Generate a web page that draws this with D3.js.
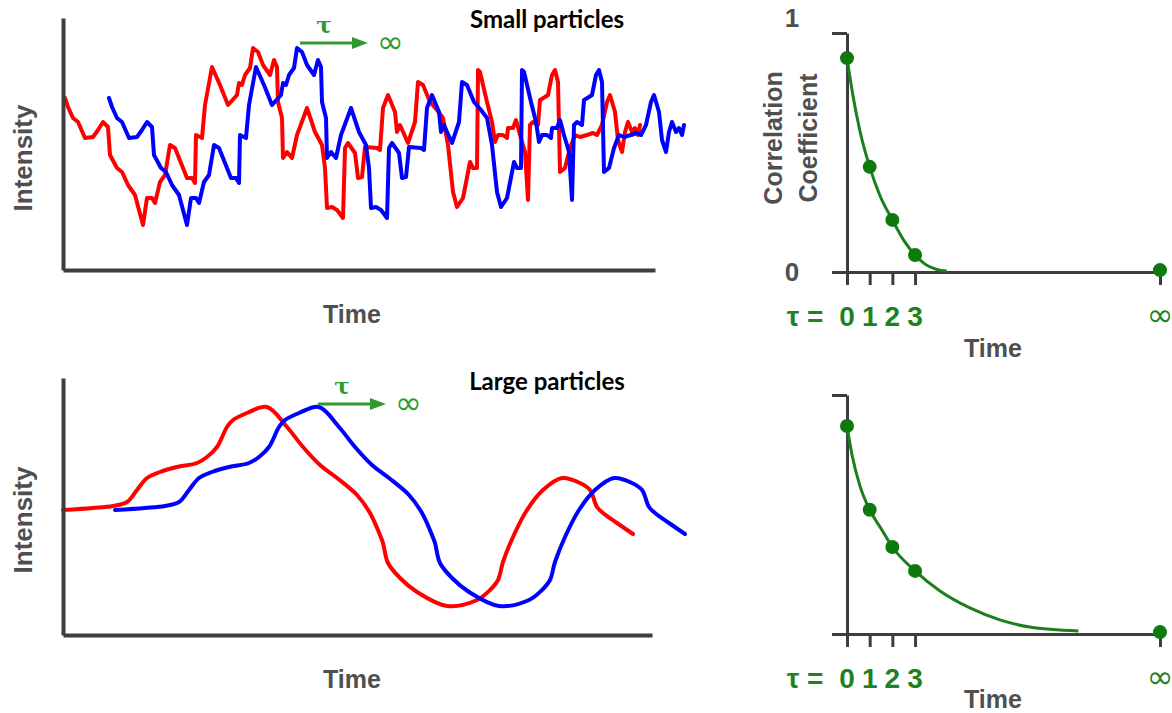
<!DOCTYPE html>
<html>
<head>
<meta charset="utf-8">
<script src="https://cdn.jsdelivr.net/npm/d3@7"></script>
<style>
  body { margin: 0; background: #fff; }
  svg { display: block; }
  .axis .domain, .axis line { stroke: #3d3d3d; }
  .label { font-family: "Liberation Sans", Arial, sans-serif; font-weight: bold; fill: #4f4f4f; }
  .title { font-family: Lato, "Open Sans", sans-serif; font-weight: bold; fill: #000; }
  .green { fill: #1f821f; font-family: "Liberation Sans", Arial, sans-serif; font-weight: bold; }
</style>
</head>
<body>
<svg width="1172" height="713"></svg>
<script>
// intensity traces: [time, intensity]; second trace is the same signal delayed by tau
var smallTrace = [
  [2,172],[5,163],[10,152],[15,148],[22,132],[30,133],[35,140],[40,148],[45,143],[47,115],
  [54,102],[59,98],[65,85],[72,75],[80,45],[84,72],[89,72],[92,67],[97,88],[102,95],
  [107,125],[112,122],[124,92],[129,92],[132,87],[133,135],[139,132],[142,165],[149,203],[157,185],
  [165,165],[174,175],[176,187],[179,185],[182,195],[187,202],[190,222],[195,218],[200,205],[207,195],
  [211,210],[214,203],[215,168],[219,152],[220,112],[224,118],[229,112],[234,135],[244,162],[252,138],
  [259,125],[262,102],[264,62],[269,63],[274,60],[280,52],[282,122],[285,127],[292,117],[295,92],
  [299,93],[302,123],[314,122],[317,120],[320,162],[325,175],[332,158],[334,138],[337,145],[345,127],
  [352,148],[355,188],[360,185],[367,168],[374,160],[380,152],[385,125],[390,78],[394,63],[400,72],
  [407,108],[410,102],[414,102],[415,200],[417,198],[424,168],[429,148],[432,128],[435,135],[440,135],
  [444,132],[445,142],[450,142],[453,150],[457,135],[462,118],[465,70],[467,145],[470,148],[475,145],
  [477,170],[482,173],[485,175],[489,195],[492,200],[495,188],[497,98],[502,102],[507,122],[512,135],
  [517,133],[524,135],[530,137],[534,135],[539,145],[544,168],[547,175],[552,158],[555,130],[559,118],
  [562,138],[565,148],[569,138],[572,142],[575,135],[577,145]
];
var smallTau = 44;

var largeTrace = [
  [0,125],[30,127],[50,129],[64,133],[74,145],[84,157],[97,163],[114,168],[134,172],[144,178],
  [154,188],[164,208],[170,215],[184,222],[204,228],[224,208],[240,188],[257,170],[274,157],[294,140],
  [307,122],[317,100],[320,92],[325,72],[337,57],[354,43],[384,29],[414,35],[427,45],[435,55],
  [440,73],[450,98],[464,125],[480,145],[499,157],[517,152],[527,145],[534,128],[540,122],[554,112],
  [570,101]
];
var largeTau = 52;

// correlation decay: [tau, coefficient]
var smallDots = [[0,0.895],[1,0.44],[2,0.218],[3,0.071]];
var smallFit = [[0,0.895],[0.26,0.74],[0.57,0.59],[1,0.44],[1.45,0.32],[2,0.218],[2.55,0.126],[3,0.071],[3.44,0.033],[3.88,0.013],[4.4,0.004]];
var largeDots = [[0,0.87],[1,0.52],[2,0.364],[3,0.264]];
var largeFit = [[0,0.87],[0.22,0.75],[0.57,0.62],[1,0.52],[1.54,0.435],[2,0.364],[3,0.264],[4.1,0.18],[5.42,0.109],[6.74,0.059],[8.06,0.029],[10.2,0.0125]];
var infDot = 0.008;
var tauTicks = [0, 1, 2, 3];
var tauTickLabels = ['0', '1', '2', '3'];
var tauInf = 13.8;   // where "∞" sits on the lag axis

var svg = d3.select('svg');

function tracePanel(opt) {
  var x = d3.scaleLinear().domain([0, opt.tmax]).range([63, opt.right]);
  var y = d3.scaleLinear().domain([0, opt.vmax]).range([opt.bottom, opt.top]);
  var g = svg.append('g');

  var line = d3.line()
    .x(function(d) { return x(d[0]); })
    .y(function(d) { return y(d[1]); })
    .curve(opt.curve);

  g.append('path')
    .datum(opt.data)
    .attr('fill', 'none').attr('stroke', '#ff0000').attr('stroke-width', 4)
    .attr('stroke-linejoin', 'round').attr('stroke-linecap', 'round')
    .attr('d', line);

  g.append('path')
    .datum(opt.data.map(function(d) { return [d[0] + opt.tau, d[1]]; }))
    .attr('fill', 'none').attr('stroke', '#0000ff').attr('stroke-width', 4)
    .attr('stroke-linejoin', 'round').attr('stroke-linecap', 'round')
    .attr('d', line);

  g.append('g').attr('class', 'axis')
    .attr('transform', 'translate(0,' + opt.bottom + ')')
    .call(d3.axisBottom(x).tickValues([]).tickSizeOuter(0))
    .select('.domain').attr('stroke-width', 4);
  g.append('g').attr('class', 'axis')
    .attr('transform', 'translate(63,0)')
    .call(d3.axisLeft(y).tickValues([]).tickSizeOuter(0))
    .select('.domain').attr('stroke-width', 4);

  g.append('text').attr('class', 'label')
    .attr('transform', 'translate(32,' + opt.labelY + ') rotate(-90)')
    .attr('text-anchor', 'middle').attr('font-size', 26)
    .text('Intensity');
  g.append('text').attr('class', 'label')
    .attr('x', 352).attr('y', opt.bottom + 53)
    .attr('text-anchor', 'middle').attr('font-size', 25)
    .text('Time');

  g.append('text').attr('class', 'title')
    .attr('x', 547).attr('y', opt.titleY)
    .attr('text-anchor', 'middle').attr('font-size', 24)
    .text(opt.title);

  // tau arrow
  var ax = opt.arrow[0], ay = opt.arrow[1];
  g.append('line')
    .attr('x1', ax).attr('y1', ay).attr('x2', ax + 55).attr('y2', ay)
    .attr('stroke', '#2f9a2f').attr('stroke-width', 3);
  g.append('path')
    .attr('d', 'M' + (ax + 52) + ',' + (ay - 6) + ' L' + (ax + 68) + ',' + ay + ' L' + (ax + 52) + ',' + (ay + 6) + ' Z')
    .attr('fill', '#2f9a2f');
  g.append('text')
    .attr('x', ax + 24).attr('y', ay - 10)
    .attr('text-anchor', 'middle').attr('font-size', 23).attr('font-weight', 'bold')
    .attr('font-family', '"DejaVu Serif", serif').attr('fill', '#2f9a2f')
    .text('τ');
  g.append('text')
    .attr('x', ax + 77).attr('y', ay + 10)
    .attr('font-size', 32).attr('font-family', '"DejaVu Sans", sans-serif').attr('fill', '#2f9a2f')
    .text('∞');
}

function corrPanel(opt) {
  var x = d3.scaleLinear().domain([0, tauInf]).range([847, 1160]);
  var y = d3.scaleLinear().domain([0, 1]).range([opt.bottom, opt.bottom - 239]);
  var g = svg.append('g');

  var vAxis = g.append('g').attr('class', 'axis')
    .attr('transform', 'translate(847,0)')
    .call(d3.axisLeft(y).tickValues([0, 1]).tickSize(15).tickSizeOuter(0).tickFormat(''));
  vAxis.selectAll('.domain, line').attr('stroke-width', 3);

  var hAxis = g.append('g').attr('class', 'axis')
    .attr('transform', 'translate(0,' + opt.bottom + ')')
    .call(d3.axisBottom(x).tickValues(tauTicks.concat([tauInf])).tickSize(13).tickSizeOuter(0).tickFormat(''));
  hAxis.selectAll('.domain, line').attr('stroke-width', 3);

  var line = d3.line()
    .x(function(d) { return x(d[0]); })
    .y(function(d) { return y(d[1]); })
    .curve(d3.curveMonotoneX);

  g.append('path')
    .datum(opt.fit)
    .attr('fill', 'none').attr('stroke', '#1b7f1b').attr('stroke-width', 3)
    .attr('d', line);

  g.selectAll('circle.dot')
    .data(opt.dots.concat([[tauInf, infDot]]))
    .enter().append('circle')
    .attr('class', 'dot')
    .attr('cx', function(d) { return x(d[0]); })
    .attr('cy', function(d) { return y(d[1]); })
    .attr('r', 7)
    .attr('fill', '#0e7a0e');

  var ly = opt.bottom + 54;
  g.selectAll('text.tau')
    .data(tauTicks)
    .enter().append('text')
    .attr('class', 'green tau')
    .attr('x', function(d) { return x(d); })
    .attr('y', ly)
    .attr('text-anchor', 'middle').attr('font-size', 28)
    .text(function(d, i) { return tauTickLabels[i]; });
  g.append('text').attr('class', 'green')
    .attr('x', 805).attr('y', ly)
    .attr('text-anchor', 'middle').attr('font-size', 28)
    .text('τ =');
  g.append('text')
    .attr('x', x(tauInf)).attr('y', ly)
    .attr('text-anchor', 'middle').attr('font-size', 32)
    .attr('font-family', '"DejaVu Sans", sans-serif').attr('fill', '#1f821f')
    .text('∞');

  g.append('text').attr('class', 'label')
    .attr('x', 993).attr('y', opt.timeY)
    .attr('text-anchor', 'middle').attr('font-size', 25)
    .text('Time');

  if (opt.yLabels) {
    g.append('text').attr('class', 'label')
      .attr('x', 792).attr('y', y(1) - 6)
      .attr('text-anchor', 'middle').attr('font-size', 26)
      .text('1');
    g.append('text').attr('class', 'label')
      .attr('x', 792).attr('y', y(0) + 9)
      .attr('text-anchor', 'middle').attr('font-size', 26)
      .text('0');
    g.append('text').attr('class', 'label')
      .attr('transform', 'translate(782,138) rotate(-90)')
      .attr('text-anchor', 'middle').attr('font-size', 25)
      .text('Correlation');
    g.append('text').attr('class', 'label')
      .attr('transform', 'translate(817,138) rotate(-90)')
      .attr('text-anchor', 'middle').attr('font-size', 25)
      .text('Coefficient');
  }
}

tracePanel({
  data: smallTrace, tau: smallTau, tmax: 592, vmax: 252,
  right: 655, bottom: 270, top: 18, labelY: 158,
  curve: d3.curveLinear, title: 'Small particles', titleY: 28, arrow: [300, 43]
});
tracePanel({
  data: largeTrace, tau: largeTau, tmax: 589, vmax: 257,
  right: 652, bottom: 635, top: 378, labelY: 520,
  curve: d3.curveCatmullRom, title: 'Large particles', titleY: 390, arrow: [318, 404]
});
corrPanel({ dots: smallDots, fit: smallFit, bottom: 272, yLabels: true, timeY: 357 });
corrPanel({ dots: largeDots, fit: largeFit, bottom: 634, yLabels: false, timeY: 708 });
</script>
</body>
</html>
